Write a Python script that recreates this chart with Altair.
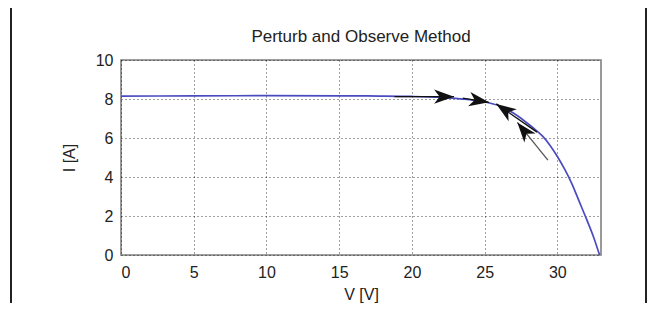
import math
import altair as alt
import pandas as pd

# I-V curve
volts = [0, 5, 10, 15, 18, 20, 22, 23, 24, 25, 26, 26.5, 27, 27.5, 28, 28.5, 29, 29.5, 30, 30.5, 31, 31.5, 32, 32.5, 32.9]
amps = [8.15, 8.16, 8.17, 8.16, 8.15, 8.13, 8.08, 8.03, 7.96, 7.85, 7.65, 7.48, 7.27, 7.01, 6.72, 6.42, 6.08, 5.62, 5.05, 4.4, 3.65, 2.75, 1.85, 0.9, 0.0]

# P&O step arrows (start -> tip)
arrow_v0 = [18.8, 23.5, 28.6, 29.35]
arrow_i0 = [8.12, 8.05, 6.3, 4.87]
arrow_v1 = [22.9, 25.3, 25.8, 27.25]
arrow_i1 = [8.12, 7.83, 7.75, 6.8]
arrow_color = ["#111111", "#111111", "#111111", "#555555"]

x_ticks = [0, 5, 10, 15, 20, 25, 30]
y_ticks = [0, 2, 4, 6, 8, 10]

W, H = 480, 195
XMAX, YMAX = 33, 10

curve = pd.DataFrame({"V": volts, "I": amps})
arrows = pd.DataFrame({"v0": arrow_v0, "i0": arrow_i0, "v1": arrow_v1, "i1": arrow_i1, "c": arrow_color})
kx, ky = W / XMAX, H / YMAX
arrows["angle"] = [
    math.degrees(math.atan2((b - a) * kx, (d - c) * ky)) % 360
    for a, b, c, d in zip(arrows.v0, arrows.v1, arrows.i0, arrows.i1)
]

xs = alt.Scale(domain=[0, XMAX], nice=False, zero=False)
ys = alt.Scale(domain=[0, YMAX], nice=False)

xax = alt.Axis(values=x_ticks, title="V [V]", labelPadding=9, titlePadding=6)
yax = alt.Axis(values=y_ticks, title="I [A]", labelPadding=8, titlePadding=18)

line = alt.Chart(curve).mark_line(color="#4b4bc0", strokeWidth=1.7, interpolate="monotone").encode(
    x=alt.X("V:Q", scale=xs, axis=xax),
    y=alt.Y("I:Q", scale=ys, axis=yax),
)

shafts = alt.Chart(arrows).mark_rule(strokeWidth=1.3).encode(
    x=alt.X("v0:Q", scale=xs, axis=xax),
    y=alt.Y("i0:Q", scale=ys, axis=yax),
    x2="v1:Q",
    y2="i1:Q",
    color=alt.Color("c:N", scale=None),
)

heads = alt.Chart(arrows).mark_point(
    shape="M0,0 L0.72,2 L0,1.45 L-0.72,2 Z", filled=True, opacity=1, size=400, color="#111111"
).encode(
    x=alt.X("v1:Q", scale=xs, axis=xax),
    y=alt.Y("i1:Q", scale=ys, axis=yax),
    angle=alt.Angle("angle:Q", scale=None),
)

border_left = alt.Chart(curve).mark_rule(color="#222222", strokeWidth=2).encode(
    x=alt.value(-110), y=alt.value(-52), y2=alt.value(H + 48)
)
border_right = alt.Chart(curve).mark_rule(color="#222222", strokeWidth=2).encode(
    x=alt.value(525), y=alt.value(-52), y2=alt.value(H + 48)
)

chart = (
    alt.layer(line, shafts, heads, border_left, border_right)
    .properties(
        width=W,
        height=H,
        title=alt.TitleParams("Perturb and Observe Method", fontSize=17, fontWeight="normal",
                              font="Liberation Sans", color="#222222", offset=0, dy=39),
        autosize=alt.AutoSizeParams(type="none"),
        padding={"left": 113, "top": 52, "right": 47, "bottom": 48},
    )
    .configure_view(stroke="#808080", strokeWidth=1.6)
    .configure_axis(
        domain=False,
        ticks=False,
        grid=True,
        gridColor="#000000",
        gridDash=[1, 3],
        gridOpacity=0.75,
        gridWidth=1,
        labelFont="Liberation Sans",
        labelFontSize=16,
        labelColor="#222222",
        titleFont="Liberation Sans",
        titleFontSize=16,
        titleFontWeight="normal",
        titleColor="#222222",
    )
)

chart.save("out.html", embed_options={"renderer": "svg", "actions": False})
